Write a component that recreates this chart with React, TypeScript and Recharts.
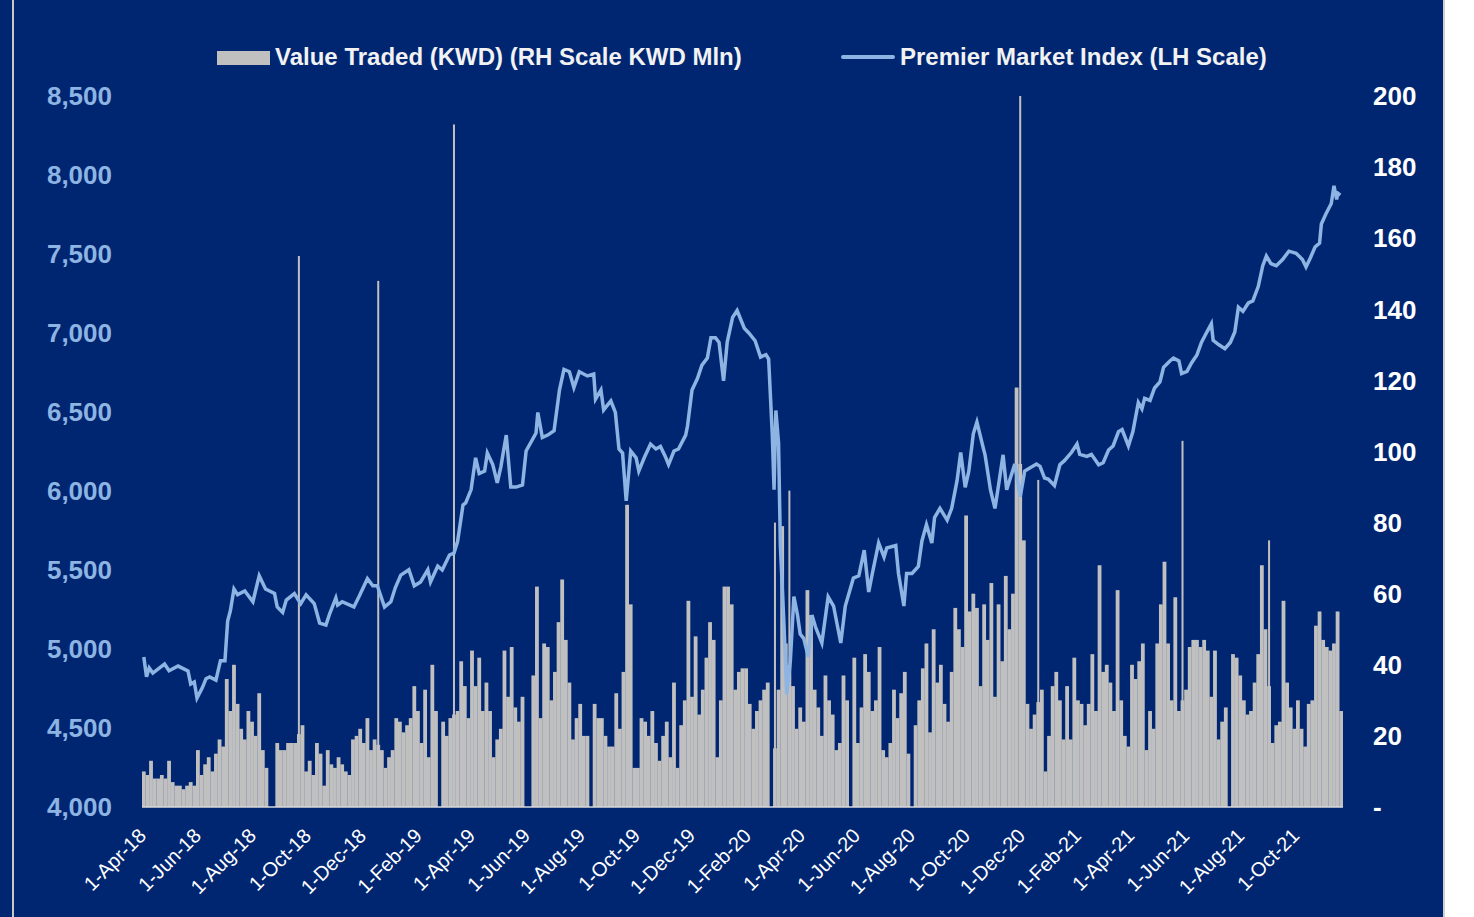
import { ComposedChart, Bar, Line, XAxis, YAxis } from "recharts";

// x-axis labels, one every two months
const tickLabels = [
  "1-Apr-18", "1-Jun-18", "1-Aug-18", "1-Oct-18", "1-Dec-18", "1-Feb-19",
  "1-Apr-19", "1-Jun-19", "1-Aug-19", "1-Oct-19", "1-Dec-19", "1-Feb-20",
  "1-Apr-20", "1-Jun-20", "1-Aug-20", "1-Oct-20", "1-Dec-20", "1-Feb-21",
  "1-Apr-21", "1-Jun-21", "1-Aug-21", "1-Oct-21",
];

const leftTicks = [4000, 4500, 5000, 5500, 6000, 6500, 7000, 7500, 8000, 8500];
const rightTicks = [0, 20, 40, 60, 80, 100, 120, 140, 160, 180, 200];

// value traded, KWD mln, one bar every 4 days starting 1-Apr-18
const valueTraded = [
  10, 9, 13, 8, 8, 9, 8, 13, 7, 6,
  6, 5, 6, 7, 6, 16, 9, 12, 14, 10,
  15, 19, 17, 36, 27, 40, 29, 22, 19, 27,
  24, 20, 32, 16, 11, 0, 0, 18, 16, 16,
  18, 18, 18, 155, 23, 10, 13, 9, 18, 15,
  6, 16, 12, 11, 14, 12, 10, 9, 19, 20,
  22, 18, 25, 16, 19, 148, 16, 11, 14, 16,
  25, 24, 21, 23, 25, 34, 27, 18, 33, 14,
  40, 27, 0, 24, 20, 25, 192, 27, 41, 34,
  25, 44, 34, 42, 27, 35, 27, 14, 19, 22,
  44, 31, 45, 28, 24, 31, 0, 0, 37, 62,
  25, 46, 45, 30, 38, 52, 64, 47, 35, 19,
  25, 29, 20, 20, 0, 29, 25, 25, 20, 17,
  17, 32, 22, 38, 85, 57, 11, 11, 25, 24,
  20, 27, 18, 13, 20, 24, 14, 35, 11, 23,
  30, 58, 31, 48, 26, 33, 42, 52, 47, 14,
  30, 62, 62, 57, 33, 38, 39, 39, 29, 22,
  27, 30, 33, 35, 0, 80, 33, 79, 46, 89,
  34, 22, 28, 24, 61, 54, 33, 28, 20, 37,
  30, 26, 16, 18, 37, 30, 0, 42, 18, 28,
  43, 38, 27, 30, 45, 16, 14, 18, 33, 25,
  32, 38, 15, 0, 23, 30, 39, 46, 21, 50,
  35, 40, 29, 24, 38, 56, 50, 45, 82, 55,
  60, 56, 34, 57, 47, 63, 31, 57, 41, 65,
  50, 60, 118, 200, 75, 29, 22, 26, 92, 33,
  10, 20, 34, 38, 30, 19, 34, 19, 42, 30,
  29, 23, 29, 43, 27, 68, 38, 40, 35, 27,
  61, 30, 20, 17, 40, 36, 41, 46, 16, 27,
  22, 46, 57, 69, 46, 30, 59, 27, 103, 33,
  45, 47, 47, 45, 47, 44, 31, 44, 19, 24,
  28, 0, 43, 42, 37, 30, 26, 27, 35, 43,
  68, 50, 75, 18, 23, 24, 58, 35, 28, 22,
  30, 22, 17, 29, 30, 51, 55, 47, 45, 44,
  46, 55, 27,
];
const BAR_STEP = 4;

// premier market index, days counted from 1-Apr-18
const pmiDays = [
  0, 3, 6, 10, 23, 28, 38, 49, 52, 56, 59, 65, 69, 73, 80, 85, 90, 93, 96, 100,
  104, 112, 121, 128, 135, 145, 148, 154, 158, 167, 174, 180, 189, 195, 202, 206, 213, 215, 220, 233,
  239, 248, 254, 259, 267, 274, 279, 285, 294, 300, 307, 315, 318, 326, 331, 339, 344, 348, 354, 357,
  363, 368, 372, 378, 381, 387, 392, 396, 402, 407, 413, 420, 424, 435, 437, 442, 448, 455, 461, 466,
  472, 477, 483, 492, 499, 501, 507, 510, 518, 523, 527, 531, 535, 540, 546, 549, 555, 562, 568, 573,
  579, 582, 588, 593, 601, 603, 608, 614, 619, 625, 629, 634, 638, 643, 647, 653, 658, 666, 671, 678,
  684, 690, 693, 697, 699, 701, 704, 706, 710, 713, 717, 721, 725, 728, 732, 737, 741, 745, 752, 759,
  765, 773, 778, 787, 793, 799, 804, 808, 815, 821, 824, 834, 837, 843, 846, 852, 859, 863, 868, 874,
  877, 883, 891, 896, 902, 906, 911, 915, 920, 924, 931, 933, 939, 944, 948, 953, 957, 966, 972, 977,
  990, 994, 999, 1003, 1010, 1016, 1021, 1029, 1035, 1038, 1046, 1051, 1059, 1064, 1070, 1075, 1081, 1085, 1092, 1097,
  1103, 1107, 1110, 1116, 1121, 1127, 1131, 1138, 1142, 1148, 1151, 1157, 1162, 1168, 1173, 1179, 1184, 1186, 1192, 1199,
  1205, 1210, 1214, 1219, 1225, 1230, 1236, 1241, 1245, 1250, 1256, 1263, 1270, 1278, 1285, 1289, 1294, 1299, 1304, 1306,
  1311, 1317, 1320, 1323, 1324, 1327,
];
const pmiValues = [
  4950, 4824, 4880, 4848, 4905, 4862, 4892, 4861, 4778, 4791, 4690, 4756, 4812, 4823, 4803, 4926, 4926, 5177, 5242, 5380,
  5344, 5367, 5299, 5464, 5380, 5351, 5266, 5231, 5310, 5351, 5287, 5343, 5287, 5164, 5152, 5221, 5323, 5278, 5299, 5266,
  5335, 5445, 5400, 5400, 5266, 5299, 5389, 5468, 5502, 5400, 5424, 5502, 5424, 5525, 5500, 5595, 5607, 5680, 5911, 5924,
  6009, 6210, 6110, 6126, 6240, 6167, 6052, 6153, 6354, 6025, 6025, 6038, 6253, 6367, 6497, 6339, 6354, 6382, 6639, 6769,
  6755, 6654, 6755, 6728, 6740, 6582, 6639, 6513, 6570, 6497, 6266, 6240, 5937, 6253, 6210, 6126, 6210, 6297, 6266, 6282,
  6210, 6167, 6253, 6266, 6354, 6411, 6639, 6712, 6797, 6841, 6970, 6970, 6941, 6697, 6941, 7099, 7142, 7030, 7000, 6951,
  6848, 6863, 6835, 6362, 6008, 6510, 6304, 5655, 5154, 4712, 4918, 5331, 5215, 5095, 5066, 4949, 5215, 5139, 5038, 5331,
  5272, 5038, 5272, 5449, 5463, 5626, 5361, 5478, 5671, 5582, 5639, 5655, 5478, 5272, 5478, 5478, 5522, 5684, 5787, 5671,
  5832, 5890, 5816, 5890, 6067, 6244, 6023, 6126, 6362, 6436, 6273, 6229, 6008, 5890, 6038, 6229, 6008, 6171, 5964, 6126,
  6171, 6156, 6082, 6076, 6035, 6166, 6192, 6245, 6297, 6232, 6219, 6232, 6166, 6179, 6259, 6285, 6376, 6389, 6285, 6376,
  6560, 6520, 6586, 6573, 6652, 6691, 6783, 6823, 6841, 6823, 6743, 6757, 6810, 6861, 6940, 7006, 7058, 6953, 6927, 6901,
  6940, 7006, 7163, 7137, 7190, 7203, 7294, 7426, 7487, 7439, 7426, 7465, 7518, 7505, 7465, 7418, 7478, 7544, 7569, 7690,
  7753, 7820, 7932, 7845, 7886, 7873,
];

const MONTHS = ["Jan", "Feb", "Mar", "Apr", "May", "Jun", "Jul", "Aug", "Sep", "Oct", "Nov", "Dec"];

function dayOf(label: string) {
  const [d, m, y] = label.split("-");
  const t = Date.UTC(2000 + Number(y), MONTHS.indexOf(m), Number(d));
  return Math.round((t - Date.UTC(2018, 3, 1)) / 86400000);
}

const tickDays = tickLabels.map(dayOf);
const labelByDay: Record<number, string> = {};
tickDays.forEach((d, i) => (labelByDay[d] = tickLabels[i]));

const barData = valueTraded.map((v, i) => ({ day: i * BAR_STEP, traded: v }));
const lineData = pmiDays.map((d, i) => ({ day: d, pmi: pmiValues[i] }));

const NAVY = "#002672";
const LINE_BLUE = "#8DB4E2";
const BAR_GREY = "#C0C0C0";
const FONT = "'Liberation Sans', Arial, sans-serif";
const BAR_W = 3.8;
const SPIKE_W = 2;

function DateTick({ x, y, payload }: any) {
  const tx = x + 3.5;
  const ty = y + 22;
  return (
    <text
      x={tx}
      y={ty}
      transform={`rotate(-45 ${tx} ${ty})`}
      textAnchor="end"
      fill="#FFFFFF"
      fontSize={20}
      fontFamily={FONT}
    >
      {labelByDay[payload.value]}
    </text>
  );
}

// recharts squeezes bar width on a number axis, so draw a fixed width around the bar centre.
// single-day spikes are drawn thin on top of a base at the neighbours' level
function TradedBar(props: any) {
  const { x, y, width, height, index } = props;
  if (!height || height <= 0) return null;
  const cx = x + width / 2;
  const v = valueTraded[index];
  const prev = valueTraded[index - 1] ?? v;
  const next = valueTraded[index + 1] ?? v;
  const base = (prev + next) / 2;
  if (v >= 75 && v > base * 2) {
    const baseH = (base / v) * height;
    const bottom = y + height;
    return (
      <g>
        <rect x={cx - BAR_W / 2} y={bottom - baseH} width={BAR_W} height={baseH} fill={BAR_GREY} />
        <rect x={cx - SPIKE_W / 2} y={y} width={SPIKE_W} height={height} fill={BAR_GREY} />
      </g>
    );
  }
  return <rect x={cx - BAR_W / 2} y={y} width={BAR_W} height={height} fill={BAR_GREY} />;
}

export default function App() {
  return (
    <div style={{ position: "absolute", left: 0, top: 0, width: 1474, height: 917, background: "#FFFFFF" }}>
      <div style={{ position: "absolute", left: 0, top: 0, width: 1443, height: 917, background: NAVY }} />
      <div style={{ position: "absolute", left: 12, top: 0, width: 2, height: 917, background: "#C8C8C8" }} />
      <div style={{ position: "absolute", left: 1443, top: 0, width: 2, height: 917, background: "#D0D0D0" }} />

      {/* legend */}
      <div style={{ position: "absolute", left: 217, top: 51, width: 53, height: 14, background: BAR_GREY }} />
      <div
        style={{
          position: "absolute", left: 275, top: 45, fontSize: 24, lineHeight: "24px",
          fontWeight: "bold", fontFamily: FONT, color: "#F2F2F2", whiteSpace: "nowrap",
        }}
      >
        Value Traded (KWD) (RH Scale KWD Mln)
      </div>
      <div style={{ position: "absolute", left: 841, top: 55, width: 54, height: 4, borderRadius: 2, background: LINE_BLUE }} />
      <div
        style={{
          position: "absolute", left: 900, top: 45, fontSize: 24, lineHeight: "24px",
          fontWeight: "bold", fontFamily: FONT, color: "#F2F2F2", whiteSpace: "nowrap",
        }}
      >
        Premier Market Index (LH Scale)
      </div>

      <div style={{ position: "absolute", left: 0, top: 0 }}>
        <ComposedChart
          width={1443}
          height={917}
          data={barData}
          margin={{ top: 96, right: 40, bottom: 20, left: 42 }}
        >
          <XAxis
            dataKey="day"
            type="number"
            domain={[-2, 1330]}
            ticks={tickDays}
            interval={0}
            allowDataOverflow
            tick={<DateTick />}
            tickLine={false}
            axisLine={{ stroke: "#D9D9D9", strokeWidth: 1.5 }}
            height={90}
          />
          <YAxis
            yAxisId="left"
            orientation="left"
            domain={[4000, 8500]}
            ticks={leftTicks}
            interval={0}
            allowDataOverflow
            width={100}
            tickMargin={24}
            axisLine={false}
            tickLine={false}
            tickFormatter={(v: number) => v.toLocaleString("en-US")}
            tick={{ fill: LINE_BLUE, fontSize: 26, fontWeight: "bold", fontFamily: FONT }}
          />
          <YAxis
            yAxisId="right"
            orientation="right"
            domain={[0, 200]}
            ticks={rightTicks}
            interval={0}
            allowDataOverflow
            width={60}
            tickMargin={24}
            axisLine={false}
            tickLine={false}
            tickFormatter={(v: number) => (v === 0 ? "-" : String(v))}
            tick={{ fill: "#FFFFFF", fontSize: 26, fontWeight: "bold", fontFamily: FONT, textAnchor: "start" }}
          />
          <Bar
            yAxisId="right"
            dataKey="traded"
            fill={BAR_GREY}
            shape={<TradedBar />}
            isAnimationActive={false}
          />
          <Line
            yAxisId="left"
            data={lineData}
            dataKey="pmi"
            type="linear"
            stroke={LINE_BLUE}
            strokeWidth={3.5}
            dot={false}
            activeDot={false}
            isAnimationActive={false}
          />
        </ComposedChart>
      </div>
    </div>
  );
}
